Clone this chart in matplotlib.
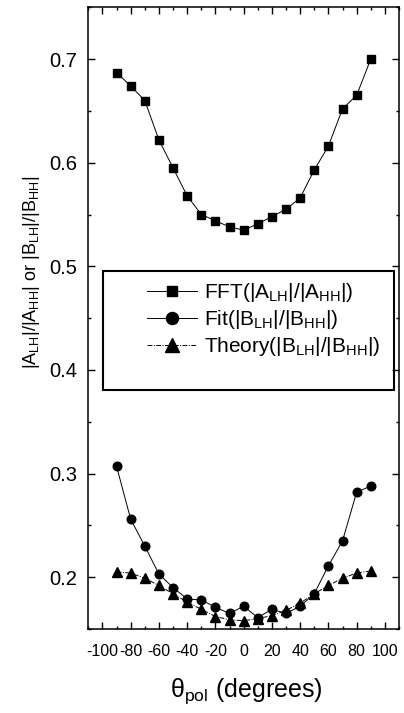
import matplotlib
matplotlib.use("Agg")
import matplotlib.pyplot as plt
from matplotlib.patches import Rectangle
from matplotlib.ticker import MultipleLocator

plt.rcParams["font.family"] = ["Liberation Sans", "DejaVu Sans"]
plt.rcParams["mathtext.fontset"] = "custom"
plt.rcParams["mathtext.rm"] = "Liberation Sans"
plt.rcParams["mathtext.it"] = "Liberation Sans"
plt.rcParams["mathtext.default"] = "regular"
plt.rcParams["axes.unicode_minus"] = False

# polarizer angle (degrees)
theta = [-90, -80, -70, -60, -50, -40, -30, -20, -10, 0,
         10, 20, 30, 40, 50, 60, 70, 80, 90]

fft_ratio = [0.687, 0.674, 0.660, 0.622, 0.595, 0.568, 0.550, 0.544, 0.538, 0.535,
             0.541, 0.548, 0.555, 0.566, 0.593, 0.616, 0.652, 0.665, 0.700]
fit_ratio = [0.307, 0.256, 0.230, 0.203, 0.190, 0.179, 0.178, 0.171, 0.165, 0.172,
             0.161, 0.169, 0.165, 0.172, 0.184, 0.211, 0.235, 0.282, 0.288]
theory_ratio = [0.205, 0.204, 0.199, 0.192, 0.184, 0.176, 0.169, 0.162, 0.159, 0.158,
                0.160, 0.163, 0.168, 0.175, 0.184, 0.192, 0.199, 0.204, 0.206]

labels = [r"FFT(|A$_{LH}$|/|A$_{HH}$|)",
          r"Fit(|B$_{LH}$|/|B$_{HH}$|)",
          r"Theory(|B$_{LH}$|/|B$_{HH}$|)"]

fig = plt.figure(figsize=(4.04, 7.13), dpi=100)
ax = fig.add_axes([0.2186, 0.1178, 0.7690, 0.8720])

l1, = ax.plot(theta, fft_ratio, color="black", lw=0.7, marker="s", ms=5.5)
l2, = ax.plot(theta, fit_ratio, color="black", lw=0.7, marker="o", ms=6.2)
l3, = ax.plot(theta, theory_ratio, color="black", lw=0.7, marker="^", ms=6.8,
              linestyle=(0, (5, 1.5, 1, 1.5)))

ax.set_xlim(-110, 110)
ax.set_ylim(0.15, 0.75)
ax.xaxis.set_major_locator(MultipleLocator(20))
ax.xaxis.set_minor_locator(MultipleLocator(10))
ax.yaxis.set_minor_locator(MultipleLocator(0.05))
ax.set_yticks([0.2, 0.3, 0.4, 0.5, 0.6, 0.7])
ax.set_yticklabels(["0.2", "0.3", "0.4", "0.5", "0.6", "0.7"])
ax.tick_params(which="both", direction="in", top=True, right=True, width=1.0)
ax.tick_params(which="major", length=5)
ax.tick_params(which="minor", length=2.5)
ax.tick_params(axis="y", labelsize=14.5, pad=8)
ax.tick_params(axis="x", labelsize=11.5, pad=11)
for s in ax.spines.values():
    s.set_linewidth(1.1)

ax.set_xlabel(r"$\theta_{pol}$ (degrees)", fontsize=18)
ax.xaxis.set_label_coords(0.51, -0.076)
ax.set_ylabel(r"|A$_{LH}$|/|A$_{HH}$| or |B$_{LH}$|/|B$_{HH}$|", fontsize=13)
ax.yaxis.set_label_coords(-0.15, 0.574)

# legend box drawn separately (box larger than its content)
ax.add_patch(Rectangle((0.047, 0.384), 0.938, 0.1913, transform=ax.transAxes,
                       fill=False, lw=1.5, edgecolor="black", zorder=5))
ax.legend([l1, l2, l3], labels, loc="center left", bbox_to_anchor=(0.189, 0.4976),
          frameon=False, fontsize=15, handlelength=2.4, handletextpad=0.35,
          borderpad=0, borderaxespad=0, labelspacing=0.2, markerscale=1.4)

fig.savefig("out.png", dpi=100)
